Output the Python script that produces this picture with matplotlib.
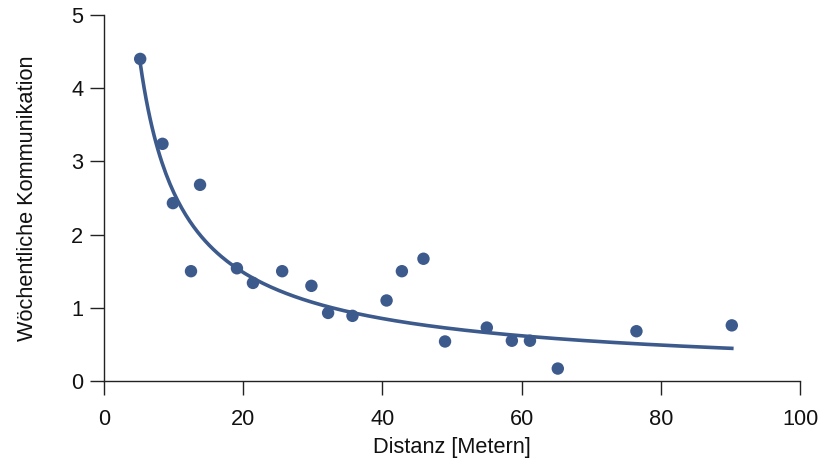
import numpy as np
import matplotlib
matplotlib.use("Agg")
import matplotlib.pyplot as plt

# distance in metres vs. weekly communication
distanz = [5.2, 8.4, 9.9, 12.5, 13.8, 19.1, 21.4, 25.6, 29.8, 32.2, 35.7,
           40.6, 42.8, 45.9, 49.0, 55.0, 58.6, 61.2, 65.2, 76.5, 90.2]
kommunikation = [4.40, 3.24, 2.43, 1.50, 2.68, 1.54, 1.34, 1.50, 1.30, 0.93, 0.89,
                 1.10, 1.50, 1.67, 0.54, 0.73, 0.55, 0.55, 0.17, 0.68, 0.76]

# power-law fit y = a * x^b, parameters
fit_a = 16.2
fit_b = -0.798

x_ticks = [0, 20, 40, 60, 80, 100]
y_ticks = [0, 1, 2, 3, 4, 5]

farbe = "#3d5a8c"
fs = 15.7
plt.rcParams["font.family"] = ["Liberation Sans", "DejaVu Sans"]

fig = plt.figure(figsize=(8.21, 4.61), dpi=100)
ax = fig.add_axes([104 / 821, 1 - 381 / 461, 696 / 821, 366 / 461])

xs = np.linspace(min(distanz), max(distanz), 300)
ax.plot(xs, fit_a * xs ** fit_b, color=farbe, lw=2.6, zorder=2)
ax.scatter(distanz, kommunikation, s=80, color=farbe, edgecolors="none", zorder=3)

ax.set_xlim(0, 100)
ax.set_ylim(0, 5)
ax.set_xticks(x_ticks)
ax.set_yticks(y_ticks)

for side in ["top", "right"]:
    ax.spines[side].set_visible(False)
for side in ["left", "bottom"]:
    ax.spines[side].set_color("#222222")
    ax.spines[side].set_linewidth(1.0)

ax.tick_params(axis="both", direction="out", length=10, width=1.0,
               color="#222222", labelsize=fs, labelcolor="#111111")
ax.tick_params(axis="x", pad=10)
ax.tick_params(axis="y", pad=5)

ax.set_xlabel("Distanz [Metern]", fontsize=fs, color="#111111", labelpad=5)
ax.set_ylabel("Wöchentliche Kommunikation", fontsize=fs, color="#111111", labelpad=24)

fig.savefig("out.png", dpi=100)
